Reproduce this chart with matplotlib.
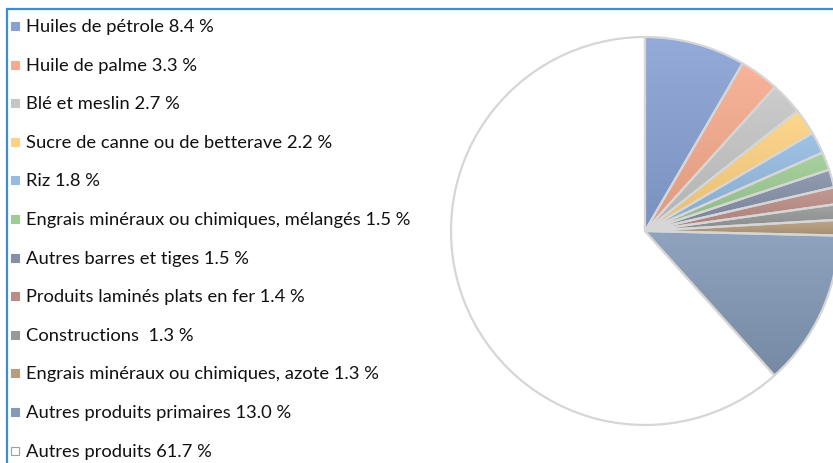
import numpy as np
import matplotlib.pyplot as plt
from matplotlib.patches import Rectangle
from matplotlib import colors as mcolors

labels = ['Huiles de pétrole', 'Huile de palme', 'Blé et meslin',
          'Sucre de canne ou de betterave', 'Riz',
          'Engrais minéraux ou chimiques, mélangés', 'Autres barres et tiges',
          'Produits laminés plats en fer', 'Constructions ',
          'Engrais minéraux ou chimiques, azote', 'Autres produits primaires',
          'Autres produits']
shares = [8.4, 3.3, 2.7, 2.2, 1.8, 1.5, 1.5, 1.4, 1.3, 1.3, 13.0, 61.7]
slice_colors = ['#88a1d4', '#f7ab8e', '#c6c6c6', '#fed282', '#95bbe1',
                '#9dcc94', '#8590a8', '#bc8d86', '#989a9a', '#b59d7e',
                '#8399b8', '#ffffff']

W, H = 833, 464
fig = plt.figure(figsize=(W / 100, H / 100), dpi=100)
fig.patch.set_facecolor('white')
ax = fig.add_axes([0, 0, 1, 1])

# pie in pixel units, y pointing up
cx, cy, r = 645, H - 232, 194
wedges, _ = ax.pie(shares, colors=slice_colors, startangle=90, counterclock=False,
                   center=(cx, cy), radius=r,
                   wedgeprops=dict(edgecolor='#d6d6d6', linewidth=1.6))

def mix(c, other, t):
    c = np.array(mcolors.to_rgb(c))
    return (1 - t) * c + t * np.array(other)

# soft vertical gradient on each coloured slice
for w, col in zip(wedges[:-1], slice_colors[:-1]):
    x0, y0, x1, y1 = w.get_path().get_extents().extents
    top = mix(col, (1, 1, 1), 0.10)
    bot = mix(col, (0, 0, 0), 0.10)
    t = np.linspace(0, 1, 64)[:, None, None]
    grad = (1 - t) * top + t * bot
    im = ax.imshow(grad, extent=[x0, x1, y0, y1], origin='upper',
                   aspect='auto', zorder=1, interpolation='bilinear')
    im.set_clip_path(w)
    w.set_facecolor('none')
    w.set_zorder(2)

ax.set_xlim(0, W)
ax.set_ylim(0, H)
ax.set_aspect('auto')
ax.axis('off')

# outer frame
fig.patches.append(Rectangle((7 / W, -0.1), 1.2, (H - 10) / H + 0.1,
                             transform=fig.transFigure, fill=False,
                             edgecolor='#3a8ed6', linewidth=1.6, zorder=0))

# legend column
y0, step = 27, 38.6
for i, (lab, val, col) in enumerate(zip(labels, shares, slice_colors)):
    yp = y0 + i * step
    fig.patches.append(Rectangle((11 / W, 1 - (yp + 4) / H), 8 / W, 8 / H,
                                 transform=fig.transFigure, facecolor=col,
                                 edgecolor='#a0a0a0' if col == '#ffffff' else col,
                                 linewidth=0.8))
    fig.text(26 / W, 1 - yp / H, f'{lab} {val:.1f} %', fontsize=13.2,
             family='Lato', color='#111111', va='center', ha='left')

fig.savefig('out.png', dpi=100, facecolor='white')
